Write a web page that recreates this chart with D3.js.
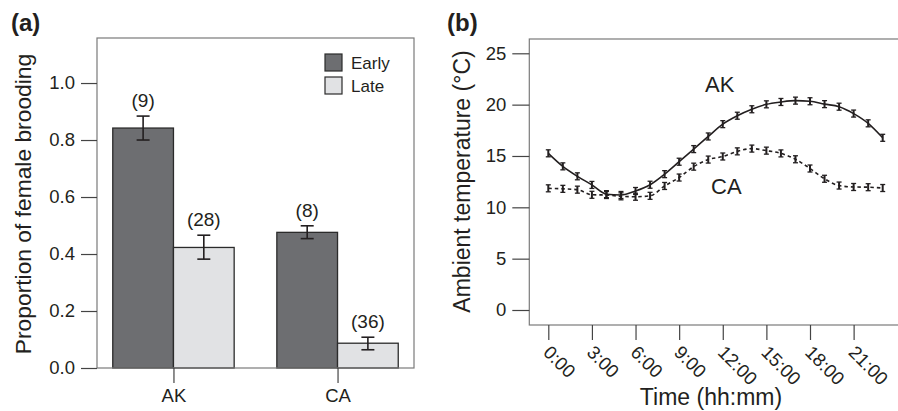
<!DOCTYPE html>
<html><head><meta charset="utf-8">
<script src="https://cdn.jsdelivr.net/npm/d3@7"></script>
<style>
body{margin:0;background:#fff;}
text{font-family:"Liberation Sans",Arial,sans-serif;fill:#231f20;}
</style></head>
<body><svg id="c" width="898" height="411"></svg>
<script>
// ---- Panel (a) data ----
const sites = ["AK", "CA"];
const periods = ["Early", "Late"];
const broodMean = [[0.842, 0.423], [0.476, 0.087]];
const broodLow  = [[0.800, 0.382], [0.454, 0.064]];
const broodHigh = [[0.884, 0.466], [0.499, 0.108]];
const sampleN   = [["(9)", "(28)"], ["(8)", "(36)"]];
const yTicksA = [0, 0.2, 0.4, 0.6, 0.8, 1.0];

// ---- Panel (b) data ----
const hours = [0,1,2,3,4,5,6,7,8,9,10,11,12,13,14,15,16,17,18,19,20,21,22,23];
const tempAK = [15.26,13.99,13.02,12.18,11.28,11.2,11.59,12.2,13.23,14.44,15.67,16.9,18.1,18.92,19.55,20.03,20.26,20.39,20.33,20.05,19.8,19.13,18.18,16.77];
const tempCA = [11.85,11.8,11.72,11.22,11.2,11.07,11.03,11.12,12.08,12.9,13.96,14.65,14.95,15.45,15.72,15.52,15.25,14.68,13.78,12.78,12.12,11.98,11.96,11.88];
const xTickHours = [0,3,6,9,12,15,18,21];
const xTickLabels = ["0:00","3:00","6:00","9:00","12:00","15:00","18:00","21:00"];
const yTicksB = [0,5,10,15,20,25];

const svg = d3.select("#c");
const frameCol = "#7a7a7a", tickCol = "#444";

// ================= Panel (a) =================
const A = {l:97, r:414, t:38, b:368};
const yA = d3.scaleLinear().domain([0, 1.158]).range([A.b, A.t]);
const xA = d3.scalePoint().domain(sites).range([A.l, A.r]).padding(0.466);
const xSub = d3.scaleBand().domain(periods).range([-60.7, 60.7]);
const fillA = {Early:"#6d6e71", Late:"#e1e2e4"};

const gA = svg.append("g");
// bars
sites.forEach((s, i) => {
  periods.forEach((p, j) => {
    const x0 = xA(s) + xSub(p);
    gA.append("rect").attr("x", x0).attr("y", yA(broodMean[i][j]))
      .attr("width", xSub.bandwidth()).attr("height", yA(0) - yA(broodMean[i][j]))
      .attr("fill", fillA[p]).attr("stroke", "#2b2b2b").attr("stroke-width", 1.3);
    const cx = x0 + xSub.bandwidth()/2;
    const eb = gA.append("g").attr("stroke", "#231f20").attr("stroke-width", 1.6);
    eb.append("line").attr("x1", cx).attr("x2", cx).attr("y1", yA(broodLow[i][j])).attr("y2", yA(broodHigh[i][j]));
    [broodLow[i][j], broodHigh[i][j]].forEach(v => {
      eb.append("line").attr("x1", cx-6.5).attr("x2", cx+6.5).attr("y1", yA(v)).attr("y2", yA(v));
    });
    gA.append("text").attr("x", cx).attr("y", yA(broodHigh[i][j]) - 9)
      .attr("text-anchor", "middle").attr("font-size", 19).text(sampleN[i][j]);
  });
});
// frame
gA.append("rect").attr("x", A.l).attr("y", A.t).attr("width", A.r - A.l).attr("height", A.b - A.t)
  .attr("fill", "none").attr("stroke", frameCol).attr("stroke-width", 1.2);
// y axis
const axYA = d3.axisLeft(yA).tickValues(yTicksA).tickFormat(d3.format(".1f")).tickSize(16).tickPadding(6);
const gyA = gA.append("g").attr("transform", `translate(${A.l},0)`).call(axYA);
gyA.select(".domain").remove();
gyA.selectAll(".tick line").attr("stroke", tickCol).attr("stroke-width", 1.2);
gyA.selectAll(".tick text").attr("font-size", 18.5).style("font-family", "Liberation Sans, Arial, sans-serif").attr("fill", "#231f20");
// x axis
const axXA = d3.axisBottom(xA).tickSize(15).tickPadding(6);
const gxA = gA.append("g").attr("transform", `translate(0,${A.b})`).call(axXA);
gxA.select(".domain").remove();
gxA.selectAll(".tick line").attr("stroke", tickCol).attr("stroke-width", 1.2);
gxA.selectAll(".tick text").attr("font-size", 18.5).style("font-family", "Liberation Sans, Arial, sans-serif").attr("fill", "#231f20");
// y title
gA.append("text").attr("transform", `translate(31,204) rotate(-90)`)
  .attr("text-anchor", "middle").attr("font-size", 22.8).text("Proportion of female brooding");
// legend
periods.forEach((p, j) => {
  const ly = 54 + j*23;
  gA.append("rect").attr("x", 325).attr("y", ly).attr("width", 17).attr("height", 17)
    .attr("fill", fillA[p]).attr("stroke", "#2b2b2b").attr("stroke-width", 1.2);
  gA.append("text").attr("x", 351).attr("y", ly + 14.5).attr("font-size", 17).text(p);
});
// panel label
svg.append("text").attr("x", 11).attr("y", 31).attr("font-size", 24).attr("font-weight", "bold").text("(a)");

// ================= Panel (b) =================
const B = {l:529.3, r:900, t:39, b:325};
const xB = d3.scaleLinear().domain([0, 23]).range([548.3, 882.7]);
const yB = d3.scaleLinear().domain([0, 25]).range([310, 53.3]);
const gB = svg.append("g");
gB.append("rect").attr("x", B.l).attr("y", B.t).attr("width", B.r - B.l).attr("height", B.b - B.t)
  .attr("fill", "none").attr("stroke", frameCol).attr("stroke-width", 1.2);
// y axis
const axYB = d3.axisLeft(yB).tickValues(yTicksB).tickFormat(d3.format("d")).tickSize(17).tickPadding(6);
const gyB = gB.append("g").attr("transform", `translate(${B.l},0)`).call(axYB);
gyB.select(".domain").remove();
gyB.selectAll(".tick line").attr("stroke", tickCol).attr("stroke-width", 1.2);
gyB.selectAll(".tick text").attr("font-size", 18.5).style("font-family", "Liberation Sans, Arial, sans-serif").attr("fill", "#231f20");
// x axis
const axXB = d3.axisBottom(xB).tickValues(xTickHours).tickFormat((d, i) => xTickLabels[i]).tickSize(15);
const gxB = gB.append("g").attr("transform", `translate(0,${B.b})`).call(axXB);
gxB.select(".domain").remove();
gxB.selectAll(".tick line").attr("stroke", tickCol).attr("stroke-width", 1.2);
gxB.selectAll(".tick text").attr("font-size", 18.5).style("font-family", "Liberation Sans, Arial, sans-serif").attr("fill", "#231f20")
  .attr("text-anchor", "start").attr("x", 0).attr("y", 0).attr("dy", "0.35em")
  .attr("transform", "translate(-2,24) rotate(45)");
// titles
gB.append("text").attr("x", 711).attr("y", 405).attr("text-anchor", "middle").attr("font-size", 23).text("Time (hh:mm)");
gB.append("text").attr("transform", `translate(470,181.5) rotate(-90)`)
  .attr("text-anchor", "middle").attr("font-size", 23).text("Ambient temperature (°C)");
// lines
const line = d3.line().x((d, i) => xB(hours[i])).y(d => yB(d)).curve(d3.curveMonotoneX);
gB.append("path").datum(tempAK).attr("d", line).attr("fill", "none").attr("stroke", "#231f20").attr("stroke-width", 1.6);
gB.append("path").datum(tempCA).attr("d", line).attr("fill", "none").attr("stroke", "#231f20").attr("stroke-width", 1.6).attr("stroke-dasharray", "3.5,3");
// point markers
[tempAK, tempCA].forEach(arr => {
  const m = gB.append("g").attr("stroke", "#231f20").attr("stroke-width", 1.3);
  arr.forEach((v, i) => {
    const cx = xB(hours[i]), cy = yB(v);
    m.append("line").attr("x1", cx).attr("x2", cx).attr("y1", cy - 3.5).attr("y2", cy + 3.5).attr("stroke-width", 2);
    m.append("line").attr("x1", cx - 2.5).attr("x2", cx + 2.5).attr("y1", cy - 3.5).attr("y2", cy - 3.5);
    m.append("line").attr("x1", cx - 2.5).attr("x2", cx + 2.5).attr("y1", cy + 3.5).attr("y2", cy + 3.5);
  });
});
// series labels
gB.append("text").attr("x", 705).attr("y", 92).attr("font-size", 22).text("AK");
gB.append("text").attr("x", 711).attr("y", 194).attr("font-size", 22).text("CA");
// panel label
svg.append("text").attr("x", 447).attr("y", 31).attr("font-size", 24).attr("font-weight", "bold").text("(b)");
</script></body></html>
